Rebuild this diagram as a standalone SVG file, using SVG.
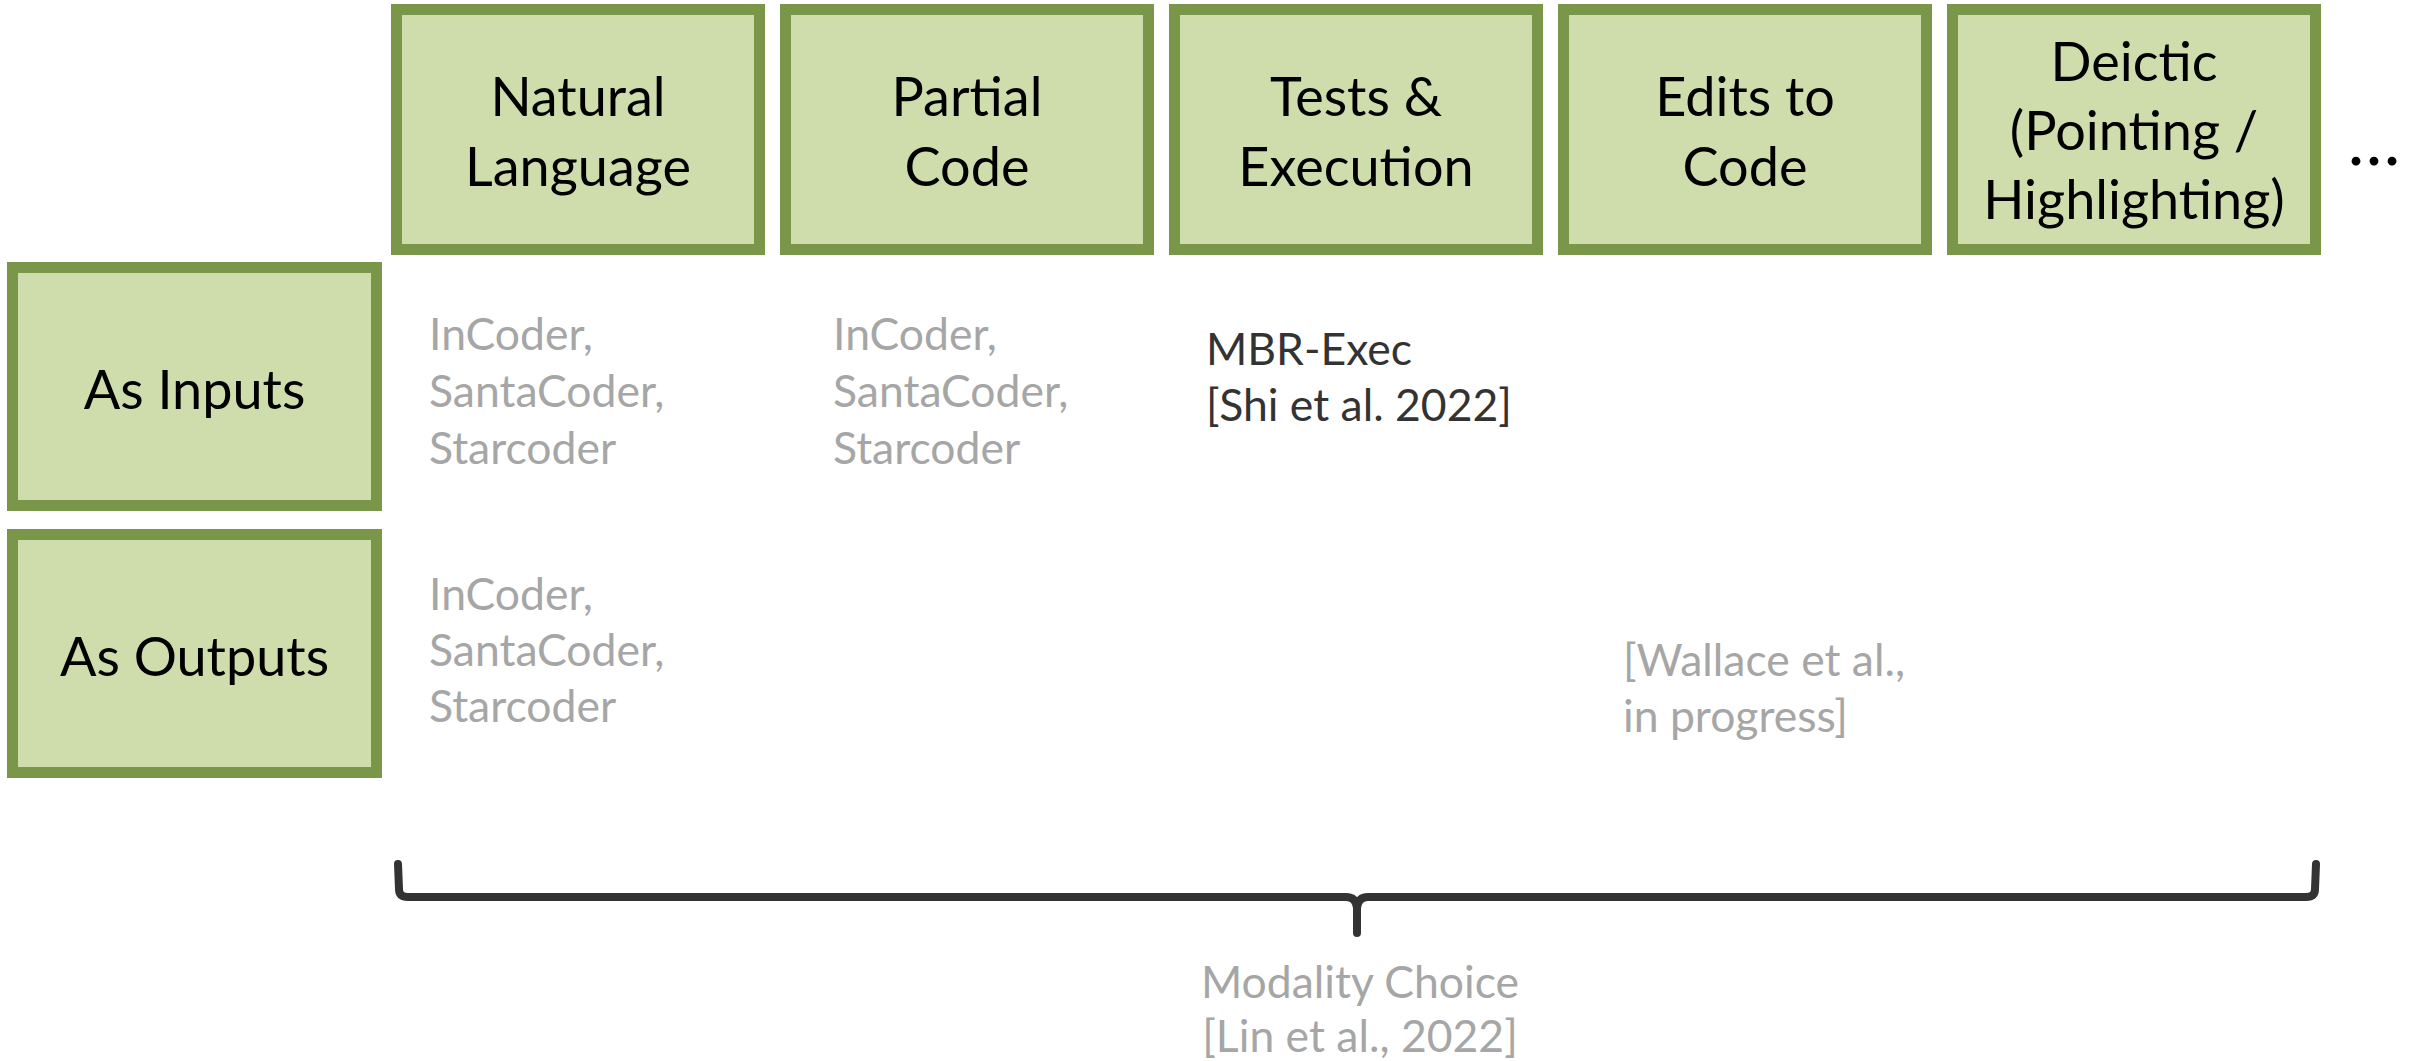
<svg xmlns="http://www.w3.org/2000/svg" width="2417" height="1061" viewBox="0 0 2417 1061">
<style>
  .box { fill: #cfddac; stroke: #7a9648; stroke-width: 11; }
  .lbl { font-family: Lato, "Liberation Sans", sans-serif; font-size: 54px; fill: #000000; text-anchor: middle; }
  .cell { font-family: Lato, "Liberation Sans", sans-serif; font-size: 44.5px; fill: #a6a6a6; }
  .dark { fill: #333333; }
  .note { font-family: Lato, "Liberation Sans", sans-serif; font-size: 44.5px; fill: #a6a6a6; text-anchor: middle; }
  .brace { fill: none; stroke: #333333; stroke-width: 8; stroke-linecap: round; stroke-linejoin: round; }
</style>
<rect width="2417" height="1061" fill="#ffffff"/>

<g id="col-natural-language">
  <rect class="box" x="396.5" y="9.5" width="363" height="240"/>
  <text class="lbl" x="578" y="116">Natural</text>
  <text class="lbl" x="578" y="186">Language</text>
</g>
<g id="col-partial-code">
  <rect class="box" x="785.5" y="9.5" width="363" height="240"/>
  <text class="lbl" x="967" y="116">Partial</text>
  <text class="lbl" x="967" y="186">Code</text>
</g>
<g id="col-tests-execution">
  <rect class="box" x="1174.5" y="9.5" width="363" height="240"/>
  <text class="lbl" x="1356" y="116">Tests &amp;</text>
  <text class="lbl" x="1356" y="186">Execution</text>
</g>
<g id="col-edits-to-code">
  <rect class="box" x="1563.5" y="9.5" width="363" height="240"/>
  <text class="lbl" x="1745" y="116">Edits to</text>
  <text class="lbl" x="1745" y="186">Code</text>
</g>
<g id="col-deictic">
  <rect class="box" x="1952.5" y="9.5" width="363" height="240"/>
  <text class="lbl" x="2134" y="81">Deictic</text>
  <text class="lbl" x="2134" y="150">(Pointing /</text>
  <text class="lbl" x="2134" y="219">Highlighting)</text>
</g>
<g id="ellipsis">
  <text class="lbl" x="2374" y="165" style="font-size:70px">…</text>
</g>

<g id="row-inputs">
  <rect class="box" x="12.5" y="267.5" width="364" height="238"/>
  <text class="lbl" x="194.5" y="409">As Inputs</text>
</g>
<g id="row-outputs">
  <rect class="box" x="12.5" y="534.5" width="364" height="238"/>
  <text class="lbl" x="194.5" y="676">As Outputs</text>
</g>

<g id="cell-inputs-nl">
  <text class="cell" x="429" y="350">InCoder,</text>
  <text class="cell" x="429" y="407">SantaCoder,</text>
  <text class="cell" x="429" y="464">Starcoder</text>
</g>
<g id="cell-inputs-partial">
  <text class="cell" x="833" y="350">InCoder,</text>
  <text class="cell" x="833" y="407">SantaCoder,</text>
  <text class="cell" x="833" y="464">Starcoder</text>
</g>
<g id="cell-inputs-tests">
  <text class="cell dark" x="1206" y="365">MBR-Exec</text>
  <text class="cell dark" x="1206" y="421">[Shi et al. 2022]</text>
</g>
<g id="cell-outputs-nl">
  <text class="cell" x="429" y="610">InCoder,</text>
  <text class="cell" x="429" y="666">SantaCoder,</text>
  <text class="cell" x="429" y="722">Starcoder</text>
</g>
<g id="cell-outputs-edits">
  <text class="cell" x="1623" y="676">[Wallace et al.,</text>
  <text class="cell" x="1623" y="732">in progress]</text>
</g>

<g id="connectors">
  <path class="brace" d="M398,864 L399,889 Q399,897 408,897 L1346,897 Q1356,897 1357,908 L1357,933 M1357,908 Q1358,897 1368,897 L2306,897 Q2315,897 2315,889 L2316,864"/>
</g>

<g id="modality-choice">
  <text class="note" x="1360" y="998">Modality Choice</text>
  <text class="note" x="1360" y="1052">[Lin et al., 2022]</text>
</g>
</svg>
